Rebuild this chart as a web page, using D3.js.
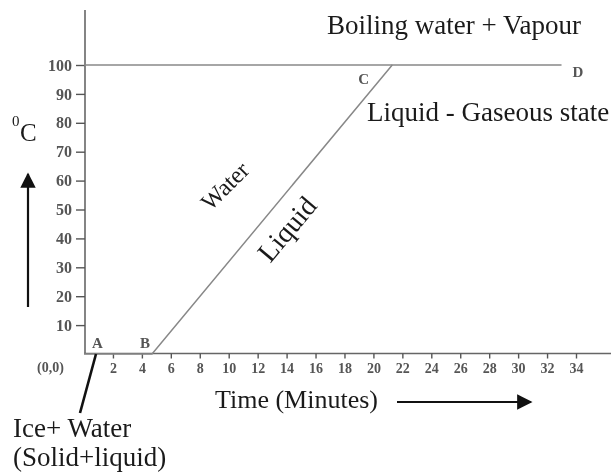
<!DOCTYPE html>
<html>
<head>
<meta charset="utf-8">
<script src="https://cdn.jsdelivr.net/npm/d3@7"></script>
<style>
  html, body { margin: 0; padding: 0; background: #fff; }
  svg { display: block; }
  text { font-family: "Liberation Serif", "Times New Roman", serif; }
</style>
</head>
<body>
<svg id="chart" width="611" height="473"></svg>
<script>
// Heating curve of water: temperature (°C) against time (minutes)
const curveLabels = ["A", "B", "C", "D"];
const curveTime = [0, 4.7, 21.3, 33];
const curveTemp = [0, 0, 100, 100];

const xTicks = [2, 4, 6, 8, 10, 12, 14, 16, 18, 20, 22, 24, 26, 28, 30, 32, 34];
const yTicks = [10, 20, 30, 40, 50, 60, 70, 80, 90, 100];

const boilingPoint = 100;

const svg = d3.select("#chart");

const defs = svg.append("defs");
defs.append("filter").attr("id", "soft")
  .attr("x", "-10%").attr("y", "-10%").attr("width", "120%").attr("height", "120%")
  .append("feGaussianBlur").attr("stdDeviation", 0.6);
const mk = defs.append("marker").attr("id", "head")
  .attr("viewBox", "0 0 10 10").attr("refX", 9).attr("refY", 5)
  .attr("markerWidth", 7).attr("markerHeight", 7).attr("markerUnits", "strokeWidth")
  .attr("orient", "auto");
mk.append("path").attr("d", "M0,0 L10,5 L0,10 Z").attr("fill", "#111");

const x = d3.scaleLinear().domain([0, 34]).range([84, 576]);
const y = d3.scaleLinear().domain([0, 100]).range([354, 65]);

const plot = svg.append("g").attr("filter", "url(#soft)");

// axes lines
plot.append("line")
  .attr("x1", x(0) + 1).attr("x2", x(0) + 1).attr("y1", 10).attr("y2", y(0))
  .attr("stroke", "#666").attr("stroke-width", 1.6);
plot.append("line")
  .attr("x1", x(0)).attr("x2", 611).attr("y1", y(0) - 0.5).attr("y2", y(0) - 0.5)
  .attr("stroke", "#666").attr("stroke-width", 1.6);

// y axis ticks
const yAxis = plot.append("g")
  .attr("transform", `translate(${x(0) + 1},0)`)
  .call(d3.axisLeft(y).tickValues(yTicks).tickSize(9).tickPadding(4));
yAxis.select(".domain").remove();
yAxis.selectAll("line").attr("stroke", "#555").attr("stroke-width", 1.4);
yAxis.selectAll("text")
  .attr("font-family", "'Liberation Serif', serif")
  .attr("font-size", 16).attr("font-weight", "bold").attr("fill", "#555");

// x axis ticks
const xAxis = plot.append("g")
  .attr("transform", `translate(0,${y(0) - 0.5})`)
  .call(d3.axisBottom(x).tickValues(xTicks).tickSize(5).tickPadding(5));
xAxis.select(".domain").remove();
xAxis.selectAll("line").attr("stroke", "#555").attr("stroke-width", 1.4);
xAxis.selectAll("text")
  .attr("font-family", "'Liberation Serif', serif")
  .attr("font-size", 14).attr("font-weight", "bold").attr("fill", "#555");

// boiling point level line
plot.append("line")
  .attr("x1", x(0)).attr("x2", x(curveTime[2]))
  .attr("y1", y(boilingPoint)).attr("y2", y(boilingPoint))
  .attr("stroke", "#888").attr("stroke-width", 1.5);

// heating curve A-B-C-D
const pts = curveTime.map((t, i) => [t, curveTemp[i]]);
plot.append("path")
  .attr("d", d3.line().x(d => x(d[0])).y(d => y(d[1]))(pts))
  .attr("fill", "none").attr("stroke", "#888").attr("stroke-width", 1.5);

// point letters
const letterOffset = { A: [8, -6], B: [-12, -6], C: [-34, 19], D: [11, 12] };
plot.selectAll("text.pt").data(curveLabels).join("text")
  .attr("class", "pt")
  .attr("x", (d, i) => x(curveTime[i]) + letterOffset[d][0])
  .attr("y", (d, i) => y(curveTemp[i]) + letterOffset[d][1])
  .attr("font-size", 15).attr("font-weight", "bold").attr("fill", "#555")
  .text(d => d);

plot.append("text").attr("x", 37).attr("y", 372)
  .attr("font-size", 14).attr("font-weight", "bold").attr("fill", "#555")
  .text("(0,0)");

// annotations
const ann = svg.append("g").attr("fill", "#1a1a1a");
ann.append("text").attr("x", 327).attr("y", 34).attr("font-size", 27)
  .text("Boiling water + Vapour");
ann.append("text").attr("x", 367).attr("y", 121).attr("font-size", 27)
  .text("Liquid - Gaseous state");
ann.append("text").attr("x", 215).attr("y", 408).attr("font-size", 26)
  .text("Time (Minutes)");
ann.append("text").attr("x", 13).attr("y", 437).attr("font-size", 27)
  .text("Ice+ Water");
ann.append("text").attr("x", 13).attr("y", 466).attr("font-size", 27)
  .text("(Solid+liquid)");

// unit label °C
ann.append("text").attr("x", 12).attr("y", 126).attr("font-size", 15).text("0");
ann.append("text").attr("x", 20).attr("y", 141).attr("font-size", 25).text("C");

// rotated state labels along the rising segment
ann.append("text")
  .attr("transform", "translate(225,186) rotate(-45)")
  .attr("text-anchor", "middle").attr("dominant-baseline", "central")
  .attr("font-size", 24).text("Water");
ann.append("text")
  .attr("transform", "translate(287,229) rotate(-50)")
  .attr("text-anchor", "middle").attr("dominant-baseline", "central")
  .attr("font-size", 28).text("Liquid");

// arrows
svg.append("line").attr("x1", 28).attr("x2", 28).attr("y1", 307).attr("y2", 174)
  .attr("stroke", "#111").attr("stroke-width", 2.2).attr("marker-end", "url(#head)");
svg.append("line").attr("x1", 397).attr("x2", 531).attr("y1", 402).attr("y2", 402)
  .attr("stroke", "#111").attr("stroke-width", 2.2).attr("marker-end", "url(#head)");

// leader from origin to the ice + water label
svg.append("line").attr("x1", 96).attr("y1", 354).attr("x2", 80).attr("y2", 413)
  .attr("stroke", "#111").attr("stroke-width", 2.6);
</script>
</body>
</html>
